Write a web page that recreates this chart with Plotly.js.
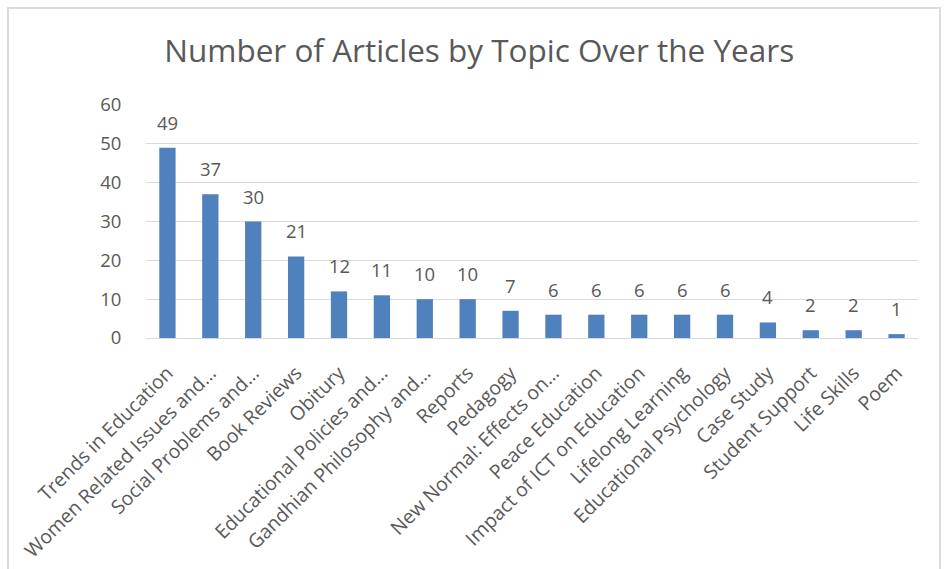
<!DOCTYPE html>
<html>
<head>
<meta charset="utf-8">
<script src="https://cdn.plot.ly/plotly-3.0.1.min.js"></script>
<style>
html,body{margin:0;padding:0;background:#fff;}
#frame{position:absolute;left:7px;top:7px;width:934px;height:580px;border:2px solid #dcdcdc;box-sizing:border-box;}
#chart{position:absolute;left:0;top:0;width:947px;height:569px;}
</style>
</head>
<body>
<div id="frame"></div>
<div id="chart"></div>
<script>
const categories = [
  "Trends in Education",
  "Women Related Issues and…",
  "Social Problems and…",
  "Book Reviews",
  "Obitury",
  "Educational Policies and…",
  "Gandhian Philosophy and…",
  "Reports",
  "Pedagogy",
  "New Normal: Effects on…",
  "Peace Education",
  "Impact of ICT on Education",
  "Lifelong Learning",
  "Educational Psychology",
  "Case Study",
  "Student Support",
  "Life Skills",
  "Poem"
];
const articleCounts = [49, 37, 30, 21, 12, 11, 10, 10, 7, 6, 6, 6, 6, 6, 4, 2, 2, 1];
const yTicks = [0, 10, 20, 30, 40, 50, 60];

const fontFam = "'Open Sans', sans-serif";
const grey = "#595959";

const trace = {
  type: "bar",
  x: categories,
  y: articleCounts,
  marker: {color: "#4f81bd"},
  hoverinfo: "x+y"
};

const annotations = categories.map((c, i) => ({
  x: c, y: articleCounts[i], xref: "x", yref: "y",
  text: String(articleCounts[i]),
  showarrow: false, yanchor: "bottom", yshift: 11,
  font: {family: fontFam, size: 18.5, color: grey}
}));

const layout = {
  width: 947, height: 569,
  margin: {l: 146, r: 29, t: 105, b: 231},
  paper_bgcolor: "rgba(0,0,0,0)",
  plot_bgcolor: "rgba(0,0,0,0)",
  bargap: 0.62,
  showlegend: false,
  title: {
    text: "Number of Articles by Topic Over the Years",
    font: {family: fontFam, size: 31.5, color: grey},
    x: 0.506, xref: "container", xanchor: "center",
    y: 0.91, yanchor: "middle"
  },
  xaxis: {
    type: "category",
    tickangle: -45,
    tickfont: {family: fontFam, size: 19.5, color: grey},
    showgrid: false,
    showline: true, linecolor: "#d9d9d9", linewidth: 1,
    ticks: "outside", ticklen: 15, tickcolor: "rgba(0,0,0,0)",
    fixedrange: true
  },
  yaxis: {
    range: [0, 60],
    tickvals: yTicks,
    tickfont: {family: fontFam, size: 18.5, color: grey},
    showgrid: true, gridcolor: "#d9d9d9", gridwidth: 1,
    zeroline: false, showline: false,
    ticks: "outside", ticklen: 20, tickcolor: "rgba(0,0,0,0)",
    fixedrange: true
  },
  annotations: annotations
};

Plotly.newPlot("chart", [trace], layout, {displayModeBar: false, staticPlot: true});
</script>
</body>
</html>
